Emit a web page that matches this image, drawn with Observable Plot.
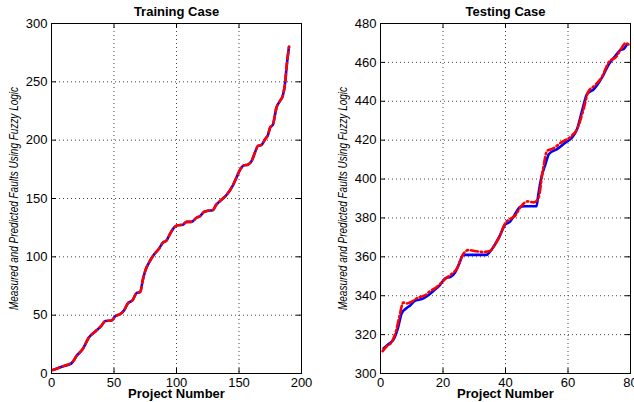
<!DOCTYPE html>
<html>
<head>
<meta charset="utf-8">
<script src="https://cdn.jsdelivr.net/npm/d3@7"></script>
<script src="https://cdn.jsdelivr.net/npm/@observablehq/plot@0.6"></script>
<style>
  html, body { margin: 0; padding: 0; background: white; overflow: hidden; }
  #wrap { position: relative; width: 634px; height: 402px; }
  #left, #right { position: absolute; top: 0; }
  #left { left: 0; }
  #right { left: 317px; }
  svg { overflow: visible; }
</style>
</head>
<body>
<div id="wrap"><div id="left"></div><div id="right"></div></div>
<script>
// ---------- Data ----------
const trainTitle = "Training Case";
const testTitle = "Testing Case";
const xLabel = "Project Number";
const yLabel = "Measured and Predicted Faults Using Fuzzy Logic";

const trainXTicks = [0, 50, 100, 150, 200];
const trainYTicks = [0, 50, 100, 150, 200, 250, 300];
const testXTicks = [0, 20, 40, 60, 80];
const testYTicks = [300, 320, 340, 360, 380, 400, 420, 440, 460, 480];

// Training case: project numbers and faults (measured and predicted overlap)
const trainX = [1, 5, 10, 15, 17, 20, 25, 30, 35, 40, 43, 48, 51, 55, 58, 61, 65, 68, 71, 73, 75, 78, 82, 86, 89, 92, 95, 98, 101, 105, 108, 112, 116, 119, 122, 125, 129, 132, 135, 140, 145, 148, 151, 154, 157, 160, 163, 165, 168, 171, 173, 175, 177, 180, 183, 185, 187, 188, 190];
const trainMeasured = [3, 4.5, 6.5, 8, 10, 15, 21, 31, 36, 41, 45, 45.5, 49, 51, 54, 60, 63, 69, 70, 80, 88, 95, 102, 107, 112, 114, 120, 125, 127, 127.5, 130, 130, 133.5, 135, 138.5, 139.5, 140, 145, 148, 153, 161, 168, 175, 178.5, 179, 182, 190, 195, 196, 201, 204, 211, 213, 228, 234, 238, 250, 262, 280];
const trainPredicted = [3, 4.5, 6.5, 8.5, 10, 15, 21, 31, 36, 41, 45, 45.5, 49, 51, 54, 60, 63, 69, 70, 80, 88, 95, 102, 107, 112, 114, 120, 125, 127, 127.5, 130, 130, 133.5, 135, 138.5, 139.5, 140, 145, 148, 153, 161, 168, 175, 178.5, 179, 182, 190, 195, 196, 201, 204, 211, 213, 228, 234, 238, 250, 262, 280];

// Testing case
const testMeasuredX = [1, 2.5, 4.2, 5.5, 6.8, 8.3, 9.5, 11, 12.6, 13.9, 15.5, 17.6, 19, 20.8, 22.4, 24, 25.3, 26.5, 28, 30, 32, 33.9, 35.7, 37.9, 40, 41.4, 42.7, 44.8, 46, 48, 49.9, 50.5, 51.5, 52.8, 53.9, 56.5, 59.2, 61.3, 62.9, 64.5, 66.1, 68.3, 70.9, 73.1, 75, 76.8, 77.8, 78.9];
const testMeasured = [313, 315, 317.5, 323, 331, 333.6, 335, 337.4, 338, 338.8, 340.5, 343.4, 345.5, 349, 349.7, 352.3, 357, 361, 361, 361, 361, 361, 364, 370, 376.8, 378, 381, 385.7, 386, 386, 386, 392, 401, 407.7, 412.9, 415.4, 418.8, 421.4, 425.7, 435.1, 443.7, 446.3, 452.3, 459.2, 463, 466.4, 466.9, 469.4];
const testPredictedX = [0.7, 2, 3.5, 5, 6, 7.3, 8.5, 10, 12, 14, 16, 18, 21, 23, 24.5, 26, 27.3, 28.3, 30, 33, 35, 36.5, 38, 40, 41.5, 43, 45, 47, 49, 50.5, 52, 53.3, 55, 58, 61, 63, 65, 66.5, 68.5, 71, 73, 75.5, 77, 78.5, 79.5];
const testPredicted = [311.5, 314, 316, 322, 329, 336.5, 336, 337, 339, 340, 342.5, 344.5, 349, 351.5, 354, 360, 363, 363.5, 363, 362.5, 363, 366, 370, 377.5, 379.5, 381, 386, 388.5, 388, 390, 405, 414.5, 415.5, 419, 422, 426, 436, 445, 448, 453, 460, 463, 467, 470, 469];

// ---------- Drawing ----------
const H = 402, MT = 23, MB = 29, TICK = 5;

function panel({title, xs1, ys1, xs2, ys2, xDomain, yDomain, xTicks, yTicks, width, ml, mr, dash}) {
  const m1 = xs1.map((x, i) => ({x, y: ys1[i]}));
  const m2 = xs2.map((x, i) => ({x, y: ys2[i]}));
  const fw = width - ml - mr, fh = H - MT - MB;
  const gridStyle = {stroke: "#444", strokeOpacity: 1, strokeWidth: 1, strokeDasharray: "1,3"};
  const svg = Plot.plot({
    width, height: H,
    marginLeft: ml, marginRight: mr, marginTop: MT, marginBottom: MB,
    style: {fontFamily: "'Liberation Sans', Arial, Helvetica, sans-serif", fontSize: "13px", background: "white", overflow: "visible"},
    x: {domain: xDomain},
    y: {domain: yDomain},
    marks: [
      Plot.gridX(xTicks.slice(1, -1), gridStyle),
      Plot.gridY(yTicks.slice(1, -1), gridStyle),
      // inward tick marks on all four sides
      Plot.ruleX(xTicks, {x: d => d, insetTop: fh - TICK, stroke: "black"}),
      Plot.ruleX(xTicks, {x: d => d, insetBottom: fh - TICK, stroke: "black"}),
      Plot.ruleY(yTicks, {y: d => d, insetRight: fw - TICK, stroke: "black"}),
      Plot.ruleY(yTicks, {y: d => d, insetLeft: fw - TICK, stroke: "black"}),
      Plot.axisX(xTicks, {tickSize: 0, tickPadding: 4, label: null, fontSize: 13, fill: "black"}),
      Plot.axisY(yTicks, {tickSize: 0, tickPadding: 4, label: null, fontSize: 13, fill: "black"}),
      Plot.line(m1, {x: "x", y: "y", stroke: "#0000ff", strokeWidth: 2.6, curve: "monotone-x"}),
      Plot.line(m2, {x: "x", y: "y", stroke: "#ff0000", strokeWidth: 2.6, strokeDasharray: dash, curve: "monotone-x"}),
      Plot.frame({stroke: "black", strokeWidth: 1}),
      Plot.text([title], {text: d => d, frameAnchor: "top", lineAnchor: "middle", dy: -11.5, fontWeight: "bold", fontSize: 13, fill: "black"}),
      Plot.text([xLabel], {text: d => d, frameAnchor: "bottom", lineAnchor: "middle", dy: 20.5, fontWeight: "bold", fontSize: 13, fill: "black"}),
      Plot.text([yLabel], {text: d => d, frameAnchor: "left", textAnchor: "middle", lineAnchor: "middle", dx: -37, rotate: -90, fontStyle: "italic", fontSize: 12, fill: "black",
        fontFamily: "'Liberation Sans Narrow', 'Liberation Sans', Arial, sans-serif"})
    ]
  });
  d3.select(svg).selectAll("text").filter(function() { return this.textContent === yLabel; })
    .attr("textLength", 223).attr("lengthAdjust", "spacingAndGlyphs");
  return svg;
}

document.getElementById("left").appendChild(panel({
  title: trainTitle, xs1: trainX, ys1: trainMeasured, xs2: trainX, ys2: trainPredicted,
  xDomain: [0, 200], yDomain: [0, 300], xTicks: trainXTicks, yTicks: trainYTicks,
  width: 317, ml: 51, mr: 16, dash: "7,4"
}));
document.getElementById("right").appendChild(panel({
  title: testTitle, xs1: testMeasuredX, ys1: testMeasured, xs2: testPredictedX, ys2: testPredicted,
  xDomain: [0, 80], yDomain: [300, 480], xTicks: testXTicks, yTicks: testYTicks,
  width: 317, ml: 63, mr: 4, dash: "7,3,1.5,3"
}));
</script>
</body>
</html>
